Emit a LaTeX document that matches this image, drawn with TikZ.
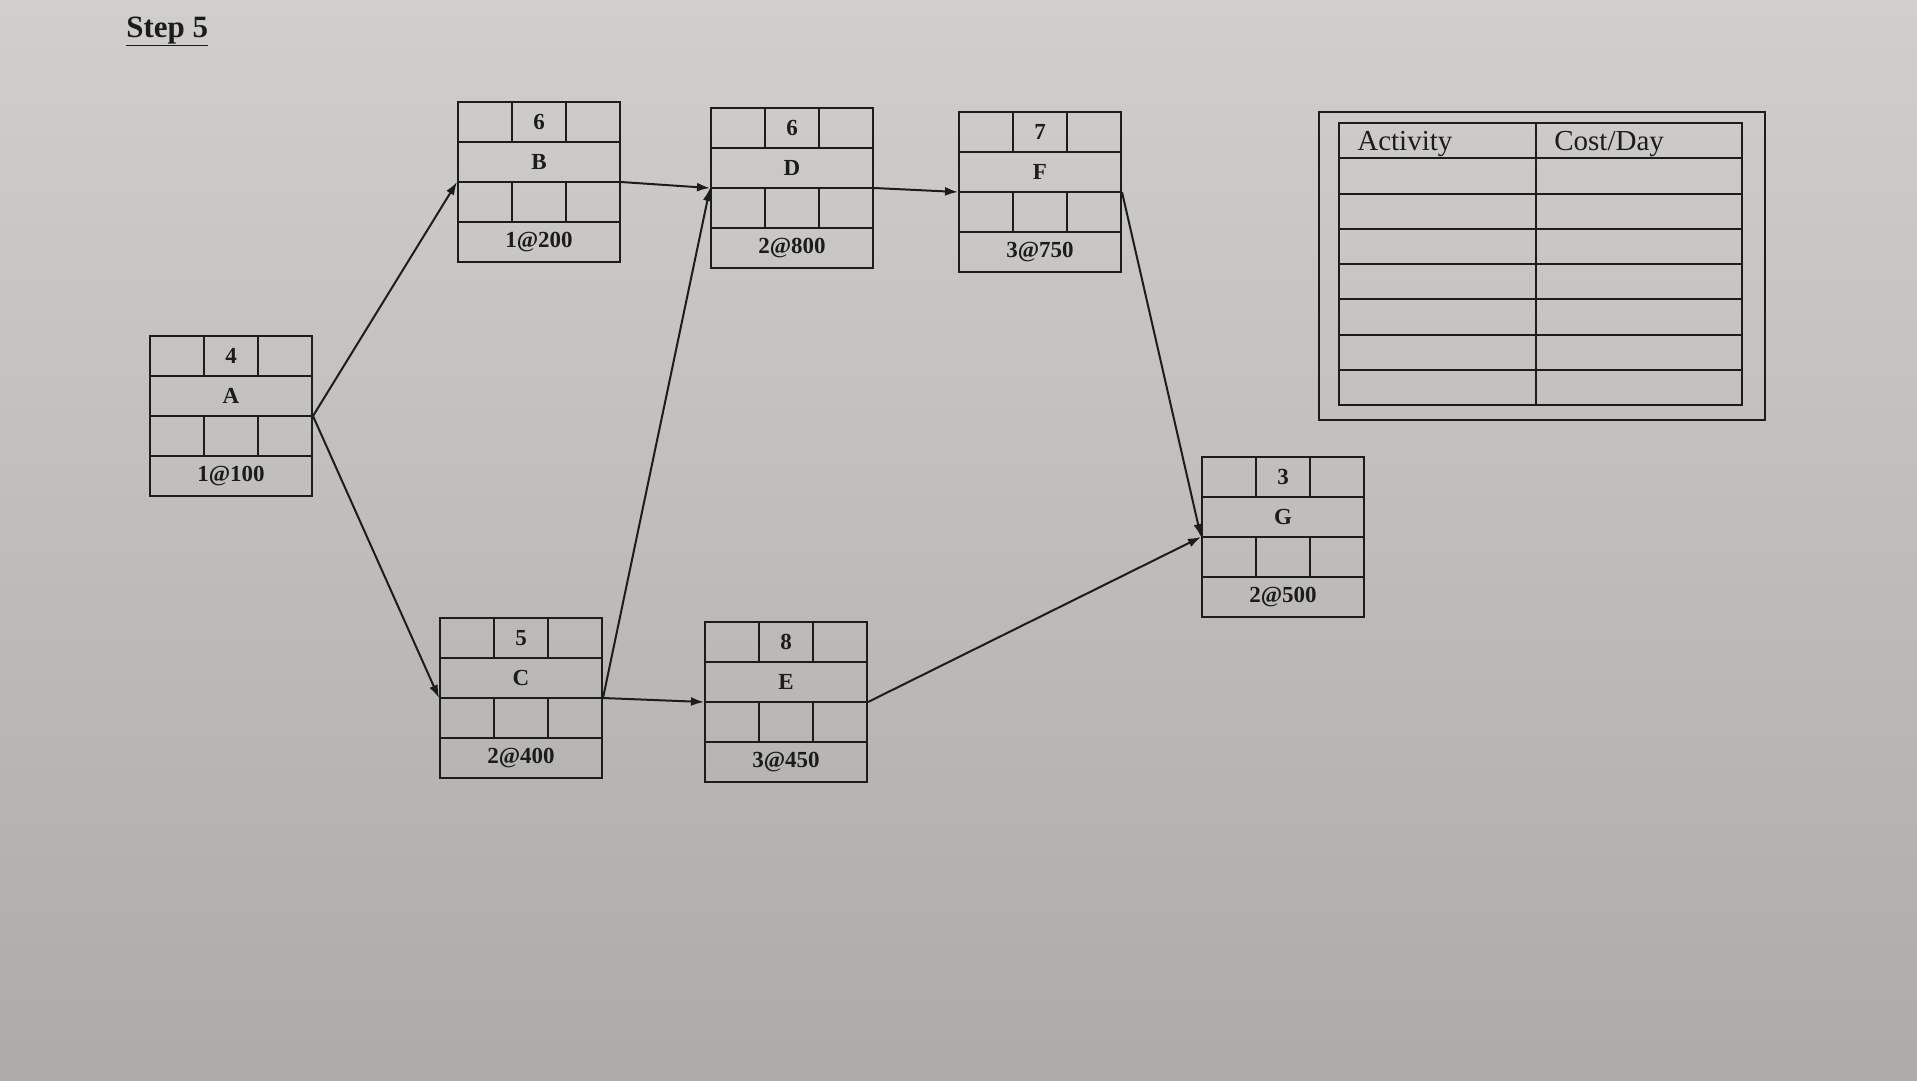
\documentclass[tikz,border=0pt]{standalone}
\usepackage{fontspec}
\setmainfont{Liberation Serif}
\usepackage{tikz}
\usetikzlibrary{arrows.meta}
\definecolor{paper}{RGB}{208,207,204}
\definecolor{papershade}{RGB}{172,171,168}
\definecolor{ink}{RGB}{28,28,28}

\begin{document}
\begin{tikzpicture}[x=1pt,y=-1pt,line width=2pt,
	actbox/.style={draw=ink,minimum width=162pt,minimum height=160pt,inner sep=0pt},
	lbl/.style={text=ink,font=\fontsize{23}{27}\selectfont\bfseries},
	head/.style={text=ink,font=\fontsize{29}{34}\selectfont,anchor=base west},
	arr/.style={draw=ink,-{Latex[length=13pt,width=9pt]}}]
	\useasboundingbox (0,0) rectangle (1917,1080);
	\shade[top color=paper,bottom color=papershade] (0,0) rectangle (1917,1080);
	\node[text=ink,font=\fontsize{31}{36}\selectfont\bfseries,anchor=base west] (title) at (122,37) {\underline{Step 5}};
	% activity boxes
	\foreach \n/\x/\y/\d/\c in {A/231/416/4/1@100, B/539/182/6/1@200, C/521/698/5/2@400,
		D/792/188/6/2@800, E/786/702/8/3@450, F/1040/192/7/3@750, G/1283/537/3/2@500}
	{
		\node[actbox] (\n) at (\x,\y) {};
		\draw[ink] (\x-81,\y-40) -- (\x+81,\y-40);
		\draw[ink] (\x-81,\y) -- (\x+81,\y);
		\draw[ink] (\x-81,\y+40) -- (\x+81,\y+40);
		\draw[ink] (\x-27,\y-80) -- (\x-27,\y-40);
		\draw[ink] (\x+27,\y-80) -- (\x+27,\y-40);
		\draw[ink] (\x-27,\y) -- (\x-27,\y+40);
		\draw[ink] (\x+27,\y) -- (\x+27,\y+40);
		\node[lbl] (\n-dur) at (\x,\y-60) {\d};
		\node[lbl] (\n-name) at (\x,\y-20) {\n};
		\node[lbl] (\n-cost) at (\x,\y+60) {\c};
	}
	\draw[arr] (A.east) -- (B.west);
	\draw[arr] (A.east) -- (C.west);
	\draw[arr] (B.east) -- (D.west);
	\draw[arr] (C.east) -- (D.west);
	\draw[arr] (C.east) -- (E.west);
	\draw[arr] (D.east) -- (F.west);
	\draw[arr] (F.east) -- (G.west);
	\draw[arr] (E.east) -- (G.west);
	% cost table
	\draw[ink] (1319,112) rectangle (1765,420);
	\draw[ink] (1339,123) rectangle (1742,405);
	\foreach \r in {1,...,7}
		\draw[ink] (1339,123+\r*35.25) -- (1742,123+\r*35.25);
	\draw[ink] (1536,123) -- (1536,405);
	\node[head] (act) at (1353,150) {Activity};
	\node[head] (cost) at (1550,150) {Cost/Day};
\end{tikzpicture}
\end{document}
